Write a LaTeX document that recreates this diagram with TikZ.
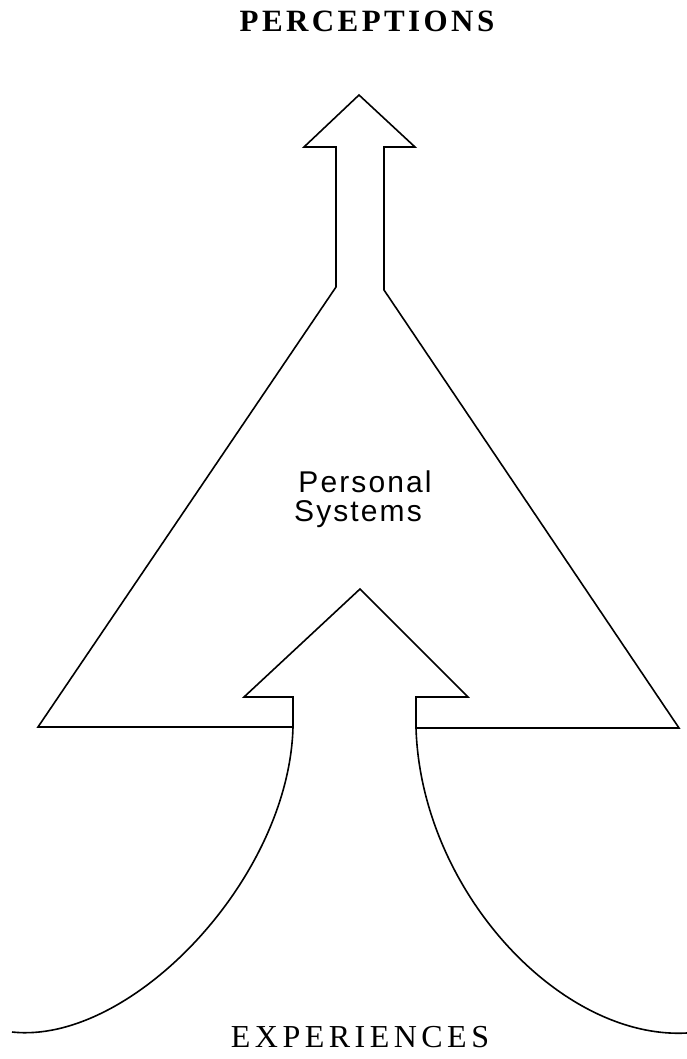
\documentclass[tikz,border=0pt]{standalone}
\usepackage{fontspec}
\setmainfont{Liberation Serif}
\newfontfamily\percfont[LetterSpace=11]{Liberation Serif Bold}
\newfontfamily\expfont[LetterSpace=14]{Liberation Serif}
\newfontfamily\persfont[LetterSpace=7]{Liberation Sans}
\begin{document}
\begin{tikzpicture}[x=1pt,y=-1pt,
  outline/.style={line width=1.6pt,line join=miter},
  toplabel/.style={font=\fontsize{31}{33}\percfont,anchor=base,inner sep=0pt},
  botlabel/.style={font=\fontsize{32}{34}\expfont,anchor=base,inner sep=0pt},
  midlabel/.style={font=\fontsize{30}{32}\persfont,anchor=base,inner sep=0pt}]
\useasboundingbox (0,0) rectangle (687,1059);
% top arrow and triangle
\coordinate (TL) at (38,727);
\coordinate (SL) at (336,287);
\coordinate (SLh) at (336,147);
\coordinate (HL) at (304,147);
\coordinate (Tip) at (359,95);
\coordinate (HR) at (415,147);
\coordinate (SRh) at (384,147);
\coordinate (SR) at (384,290);
\coordinate (TR) at (679,728);
\coordinate (BR) at (416,728);
\coordinate (BL) at (293,727);
% bottom arrow
\coordinate (bSL) at (293,697);
\coordinate (bHL) at (244,697);
\coordinate (bTip) at (360,589);
\coordinate (bHR) at (468,697);
\coordinate (bSR) at (416,697);
\coordinate (CL) at (12,1032);
\coordinate (CR) at (687,1033);

\draw[outline] (BL) -- (TL) -- (SL) -- (SLh) -- (HL) -- (Tip) -- (HR) -- (SRh) -- (SR) -- (TR) -- (BR);
\draw[outline] (CL) .. controls (130,1045) and (289,880) .. (BL)
  -- (bSL) -- (bHL) -- (bTip) -- (bHR) -- (bSR) -- (BR)
  .. controls (421,890) and (560,1040) .. (CR);

\node[toplabel] (perc) at (367,32) {PERCEPTIONS};
\node[midlabel] (pers) at (365,492) {Personal};
\node[midlabel] (sys) at (358,521) {Systems};
\node[botlabel] (exp) at (360,1047) {EXPERIENCES};
\end{tikzpicture}
\end{document}
